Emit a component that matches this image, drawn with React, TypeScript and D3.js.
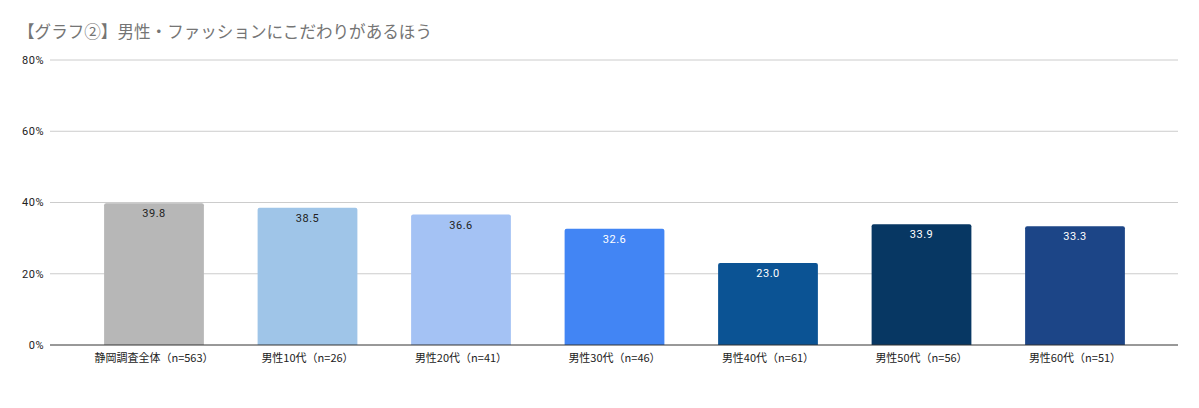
import React from "react";
import * as d3 from "d3";

const categories = ["静岡調査全体（n=563）", "男性10代（n=26）", "男性20代（n=41）", "男性30代（n=46）", "男性40代（n=61）", "男性50代（n=56）", "男性60代（n=51）"];
const values = [39.8, 38.5, 36.6, 32.6, 23.0, 33.9, 33.3];
const colors = ["#b7b7b7", "#9fc5e8", "#a4c2f4", "#4285f4", "#0b5394", "#073763", "#1c4587"];
const labelColors = ["#222222", "#222222", "#222222", "#ffffff", "#ffffff", "#ffffff", "#ffffff"];
const yTicks = [0, 20, 40, 60, 80];
const title = "【グラフ②】男性・ファッションにこだわりがあるほう";

const W = 1199, H = 408;
const FONT = "Roboto, 'Noto Sans CJK JP', sans-serif";

export default function App() {
  const x = d3.scaleBand<string>().domain(categories).range([77.25, 1151.75]).paddingInner(0.35).paddingOuter(0.175);
  const y = d3.scaleLinear().domain([0, 80]).range([345, 60]);
  const r = 2;
  const barPath = (x0: number, y0: number, w: number, h: number) =>
    `M${x0},${y0 + h}V${y0 + r}Q${x0},${y0} ${x0 + r},${y0}H${x0 + w - r}Q${x0 + w},${y0} ${x0 + w},${y0 + r}V${y0 + h}Z`;
  return (
    <svg width={W} height={H} style={{ position: "absolute", left: 0, top: 0, background: "#fff" }} fontFamily={FONT}>
      <rect width={W} height={H} fill="#fff" />
      <text x={18} y={38} fontSize={17} fill="#757575" fontFamily="'Noto Sans CJK JP', sans-serif" textLength={414} lengthAdjust="spacingAndGlyphs">{title}</text>
      {yTicks.map((t) => (
        <g key={t}>
          {t > 0 && <line x1={50} x2={1178} y1={y(t)} y2={y(t)} stroke="#cccccc" strokeWidth={1} />}
          <text x={44} y={y(t)} dy="0.35em" textAnchor="end" fontSize={11} fill="#222" letterSpacing={0.5}>{t}%</text>
        </g>
      ))}
      {categories.map((c, i) => {
        const bx = x(c)!;
        const bw = x.bandwidth();
        const top = y(values[i]);
        return (
          <g key={c}>
            <path d={barPath(bx, top, bw, y(0) - top)} fill={colors[i]} />
            <text x={bx + bw / 2} y={top + 14} textAnchor="middle" fontSize={11} fill={labelColors[i]} letterSpacing={0.5}>{values[i].toFixed(1)}</text>
            <text x={bx + bw / 2} y={y(0) + 17} textAnchor="middle" fontSize={11} fill="#222" fontFamily="'Noto Sans CJK JP', sans-serif">{c}</text>
          </g>
        );
      })}
      <line x1={50} x2={1178} y1={y(0)} y2={y(0)} stroke="#333" strokeWidth={1} />
    </svg>
  );
}
